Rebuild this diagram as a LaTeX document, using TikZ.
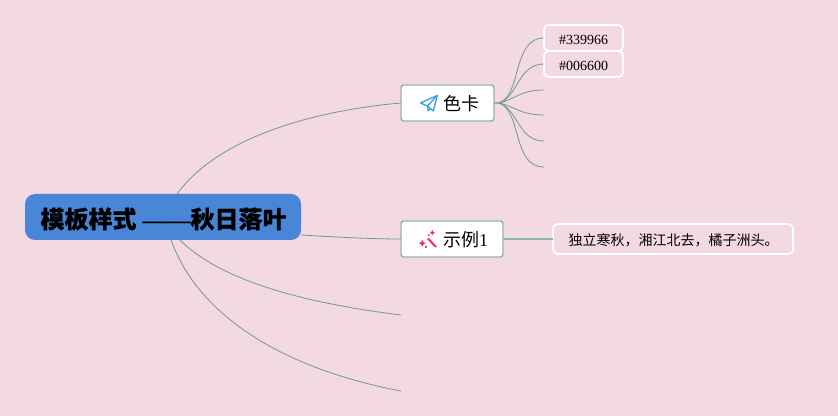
\documentclass[tikz,border=0pt]{standalone}
\usepackage{fontspec}
\setmainfont{Liberation Serif}
\newfontfamily\cjk{Noto Sans CJK SC}
\newfontfamily\cjkb[FakeBold=0.3]{Noto Sans CJK SC}
\definecolor{bgc}{HTML}{F3D9E1}
\definecolor{linkc}{HTML}{6E9A8C}
\definecolor{boxc}{HTML}{93B5AB}
\definecolor{rootc}{HTML}{4A86D8}
\definecolor{planec}{HTML}{3AA0DA}
\definecolor{wandc}{HTML}{E8336D}
\tikzset{
  every node/.style={inner sep=0pt,outer sep=0pt,text=black},
  link/.style={draw=linkc,line width=0.6pt},
  stub/.style={draw=boxc,line width=1.1pt},
  rootbox/.style={fill=rootc,rounded corners=7.5pt,minimum width=207pt,minimum height=34.5pt},
  topicbox/.style={fill=white,draw=boxc,line width=1.1pt,rounded corners=2pt,minimum height=27pt},
  leafbox/.style={draw=white,line width=1.3pt,rounded corners=3.5pt,minimum height=19.5pt},
  lbl/.style={font=\fontsize{13.5pt}{16pt}\selectfont,anchor=west},
  leaftxt/.style={font=\fontsize{10.5pt}{13pt}\selectfont},
  roottxt/.style={font=\fontsize{18pt}{22pt}\selectfont\bfseries},
  plane/.style={draw=planec,line width=1pt,line join=round},
  wand/.style={draw=wandc,line width=1.6pt}
}
\begin{document}
\begin{tikzpicture}[x=0.75pt,y=-0.75pt]
\useasboundingbox (0,0) rectangle (838,416);
\fill[bgc] (0,0) rectangle (838,416);
% nodes
\node[rootbox] (root) at (163,217) {};
\node[roottxt,anchor=west] (roott) at (40.5,219) {{\cjkb 模板样式} ——{\cjkb 秋日落叶}};
\node[topicbox,minimum width=69.75pt] (ka) at (447.5,103) {};
\node[topicbox,minimum width=76.5pt] (li) at (452,239) {};
\node[lbl] (kat) at (443,104) {\cjk 色卡};
\node[lbl] (lit) at (443,240) {{\cjk 示例}1};
\node[leafbox,minimum width=59.25pt] (c1) at (583.5,38) {};
\node[leafbox,minimum width=59.25pt] (c2) at (583.5,64) {};
\node[leaftxt] (c1t) at (583.5,40) {\#339966};
\node[leaftxt] (c2t) at (583.5,65.5) {\#006600};
\node[leafbox,minimum width=180pt,minimum height=22.5pt] (po) at (673,239) {};
\node[leaftxt,anchor=west] (pot) at (568.5,240) {\cjk 独立寒秋，湘江北去，橘子洲头。};
% free ends
\coordinate (hub) at (499,103);
\coordinate (e3) at (544,90);
\coordinate (e4) at (544,115);
\coordinate (e5) at (544,141);
\coordinate (e6) at (544,167);
\coordinate (t3) at (401,315);
\coordinate (t4) at (401,391);
\coordinate (r1) at (177,194);
\coordinate (r2) at (301,235);
\coordinate (r3) at (180,240);
\coordinate (r4) at (171,240);
% connectors
\draw[link] (r1) .. controls (220,135) and (320,110) .. (ka.west);
\draw[link] (r2) .. controls (335,237) and (370,239) .. (li.west);
\draw[link] (r3) .. controls (225,285) and (320,305) .. (t3);
\draw[link] (r4) .. controls (200,320) and (290,370) .. (t4);
\draw[stub] (li.east) -- (po.west);
\draw[stub] (ka.east) -- (hub);
\draw[link] (hub) .. controls (522,95) and (512,38) .. (c1.west);
\draw[link] (hub) .. controls (518,97) and (518,64) .. (c2.west);
\draw[link] (hub) .. controls (514,100) and (520,90) .. (e3);
\draw[link] (hub) .. controls (514,106) and (520,115) .. (e4);
\draw[link] (hub) .. controls (518,109) and (518,141) .. (e5);
\draw[link] (hub) .. controls (522,111) and (512,167) .. (e6);
% icons
\draw[plane] (437.3,95.5) -- (420.5,103) -- (427.5,106) -- (433.3,111) -- cycle;
\draw[plane] (437.3,95.5) -- (427.5,106) -- (428,110.5) -- (431,108.8);
\draw[wand] (428,238.5) -- (436,247);
\fill[wandc] (432.3,230) -- (433.2,231.8) -- (435,232.7) -- (433.2,233.6) -- (432.3,235.4) -- (431.4,233.6) -- (429.6,232.7) -- (431.4,231.8) -- cycle;
\fill[wandc] (422.3,240) -- (423.5,242.1) -- (425.6,243.3) -- (423.5,244.5) -- (422.3,246.6) -- (421.1,244.5) -- (419,243.3) -- (421.1,242.1) -- cycle;
\fill[wandc] (428.7,235) circle (1.1);
\fill[wandc] (426,247) circle (1.3);
\end{tikzpicture}
\end{document}
